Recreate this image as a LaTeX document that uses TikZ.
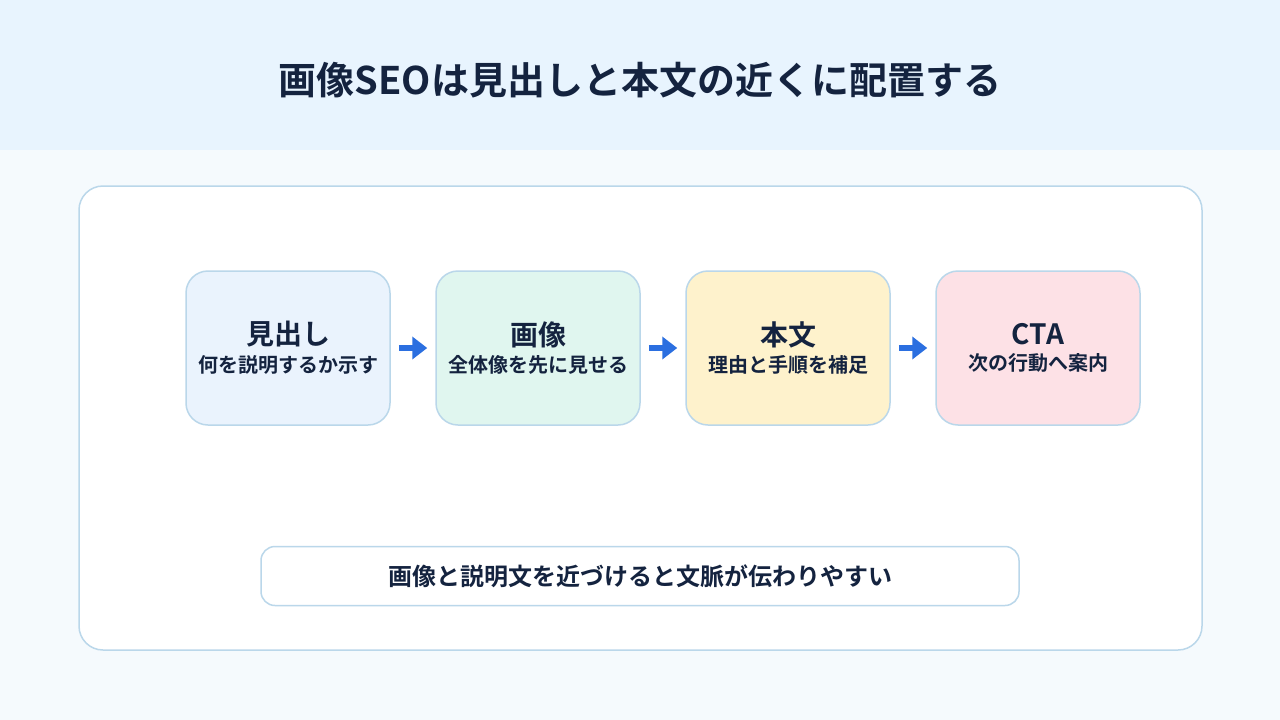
\documentclass[tikz,border=0pt]{standalone}
\usepackage{fontspec}
\setmainfont{Noto Sans CJK JP}[BoldFont={* Bold}]
\usetikzlibrary{positioning,arrows.meta}
\definecolor{headbg}{HTML}{E8F4FE}
\definecolor{pagebg}{HTML}{F5FAFD}
\definecolor{edge}{HTML}{BAD7EA}
\definecolor{ink}{HTML}{14233F}
\definecolor{flowblue}{HTML}{2B6FE0}
\definecolor{fillhead}{HTML}{EAF3FD}
\definecolor{fillimg}{HTML}{E0F6EF}
\definecolor{filltext}{HTML}{FEF2CC}
\definecolor{fillcta}{HTML}{FDE1E6}
\tikzset{
  stepbox/.style = {draw=edge, line width=1.5pt, rounded corners=22pt, minimum width=204pt, minimum height=154pt, align=center, text=ink, font=\bfseries, inner sep=0pt},
  flow/.style = {-{Triangle[length=15pt,width=22pt]}, line width=6pt, flowblue, shorten <=8pt, shorten >=8pt}
}
\newcommand{\boxtext}[2]{{\fontsize{28}{32}\selectfont #1}\\[7pt]{\fontsize{20}{22}\selectfont #2}}
\begin{document}
\begin{tikzpicture}[x=1pt, y=-1pt]
	\useasboundingbox (0,0) rectangle (1280,720);
	\fill[pagebg] (0,0) rectangle (1280,720);
	\fill[headbg] (0,0) rectangle (1280,150);
	\node (title) at (640,80) [text=ink, font=\bfseries\fontsize{38}{42}\selectfont] {画像SEOは見出しと本文の近くに配置する};
	\draw[edge, line width=1.5pt, fill=white, rounded corners=24pt] (79,186) rectangle (1202,650);
	% flow boxes
	\node[stepbox, fill=fillhead] (head) at (288,348) {\boxtext{見出し}{何を説明するか示す}};
	\node[stepbox, fill=fillimg, right=44.5pt of head] (image) {\boxtext{画像}{全体像を先に見せる}};
	\node[stepbox, fill=filltext, right=44.5pt of image] (body) {\boxtext{本文}{理由と手順を補足}};
	\node[stepbox, fill=fillcta, right=44.5pt of body] (cta) {\boxtext{CTA}{次の行動へ案内}};
	\draw[flow] (head) -- (image);
	\draw[flow] (image) -- (body);
	\draw[flow] (body) -- (cta);
	% note
	\node[draw=edge, line width=1.5pt, fill=white, rounded corners=14pt, minimum width=758pt, minimum height=59pt, text=ink, font=\bfseries\fontsize{24}{28}\selectfont] (note) at (640,576) {画像と説明文を近づけると文脈が伝わりやすい};
\end{tikzpicture}
\end{document}
